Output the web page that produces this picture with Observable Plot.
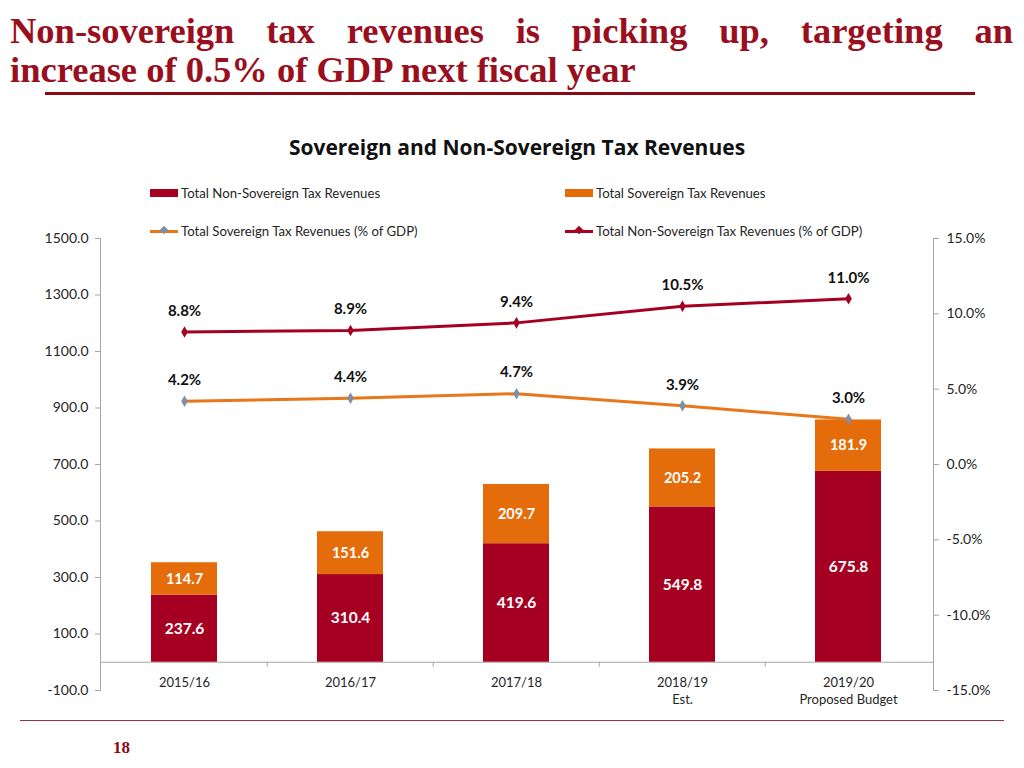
<!DOCTYPE html>
<html>
<head>
<meta charset="utf-8">
<script src="https://cdn.jsdelivr.net/npm/d3@7"></script>
<script src="https://cdn.jsdelivr.net/npm/@observablehq/plot@0.6"></script>
<style>
  html, body { margin: 0; padding: 0; background: #fff; }
  #page { position: relative; width: 1024px; height: 768px; overflow: hidden; font-family: Lato, "Open Sans", sans-serif; }
  .ttl { position: absolute; left: 10px; width: 1003px; font-family: "Liberation Serif", serif; font-weight: bold; font-size: 36.5px; color: #9A0F1E; white-space: nowrap; line-height: 1.15; }
  #t1 { top: 10px; text-align: justify; text-align-last: justify; white-space: normal; }
  #t2 { top: 49px; }
  #uline { position: absolute; left: 45px; top: 92px; width: 930px; height: 3px; background: #8B0A14; }
  #ctitle { position: absolute; left: 0; width: 1034px; top: 133px; text-align: center; font-family: "Open Sans", Lato, sans-serif; font-weight: bold; font-size: 21px; color: #111; }
  .leg { position: absolute; font-size: 13.2px; color: #262626; display: flex; align-items: center; white-space: nowrap; }
  .sw { display: inline-block; width: 28px; height: 8px; margin-right: 3px; }
  .lsw { position: relative; display: inline-block; width: 28px; height: 3px; margin-right: 3px; }
  .lsw i { position: absolute; left: 11px; top: -2.5px; width: 6px; height: 6px; transform: rotate(45deg); }
  #chart { position: absolute; left: 0; top: 200px; }
  #foot { position: absolute; left: 20px; top: 720px; width: 984px; height: 1px; background: #A0303A; }
  #pg { position: absolute; left: 113px; top: 738px; font-family: "Liberation Serif", serif; font-weight: bold; font-size: 17px; color: #8B0A14; }
</style>
</head>
<body>
<div id="page">
  <div class="ttl" id="t1">Non-sovereign tax revenues is picking up, targeting an</div>
  <div class="ttl" id="t2">increase of 0.5% of GDP next fiscal year</div>
  <div id="uline"></div>
  <div id="ctitle">Sovereign and Non-Sovereign Tax Revenues</div>
  <div class="leg" style="left:150px;top:185px;"><span class="sw" style="background:#A50021"></span>Total Non-Sovereign Tax Revenues</div>
  <div class="leg" style="left:565px;top:185px;"><span class="sw" style="background:#E46C0A"></span>Total Sovereign Tax Revenues</div>
  <div class="leg" style="left:150px;top:223px;"><span class="lsw" style="background:#E8761A"><i style="background:#7F8FA6"></i></span>Total Sovereign Tax Revenues (% of GDP)</div>
  <div class="leg" style="left:565px;top:223px;"><span class="lsw" style="background:#A50021"><i style="background:#A50021"></i></span>Total Non-Sovereign Tax Revenues (% of GDP)</div>
  <div id="chart"></div>
  <div id="foot"></div>
  <div id="pg">18</div>
</div>
<script>
const categories = ["2015/16", "2016/17", "2017/18", "2018/19", "2019/20"];
const xLabels = ["2015/16", "2016/17", "2017/18", "2018/19\nEst.", "2019/20\nProposed Budget"];
const nonSovereign = [237.6, 310.4, 419.6, 549.8, 675.8];
const sovereign = [114.7, 151.6, 209.7, 205.2, 181.9];
const sovereignPct = [4.2, 4.4, 4.7, 3.9, 3.0];
const nonSovereignPct = [8.8, 8.9, 9.4, 10.5, 11.0];
const leftTicks = [-100, 100, 300, 500, 700, 900, 1100, 1300, 1500];
const rightTicks = [-15, -10, -5, 0, 5, 10, 15];

const W = 1024, H = 520, ML = 100, MR = 91, MT = 38, MB = 30;
const yMin = -100, yMax = 1500, pMin = -15, pMax = 15;
const pctToY = p => yMin + (p - pMin) * (yMax - yMin) / (pMax - pMin);
const yToPct = y => pMin + (y - yMin) * (pMax - pMin) / (yMax - yMin);
const step = (W - ML - MR) / categories.length;

const rows = categories.map((c, i) => ({
  cat: c, label: xLabels[i],
  ns: nonSovereign[i], s: sovereign[i],
  sp: sovereignPct[i], nsp: nonSovereignPct[i]
}));

const RED = "#A50021", ORANGE = "#E46C0A", LINEOR = "#E8761A", AXIS = "#A6A6A6";

const plot = Plot.plot({
  width: W, height: H,
  marginLeft: ML, marginRight: MR, marginTop: MT, marginBottom: MB,
  style: { fontFamily: "Lato, 'Open Sans', sans-serif", background: "transparent", color: "#262626" },
  x: { type: "band", domain: categories, paddingInner: 0.6, paddingOuter: 0.3, axis: null },
  y: { domain: [yMin, yMax], axis: null },
  marks: [
    Plot.frame({ anchor: "left", stroke: AXIS }),
    Plot.frame({ anchor: "right", stroke: AXIS }),
    Plot.axisY(leftTicks, { anchor: "left", tickSize: 5, tickPadding: 7, fontSize: 14, stroke: AXIS, fill: "#262626", tickFormat: d => d.toFixed(1), label: null }),
    Plot.axisY(rightTicks.map(pctToY), { anchor: "right", tickSize: 5, tickPadding: 8, fontSize: 14, stroke: AXIS, fill: "#262626", tickFormat: d => yToPct(d).toFixed(1) + "%", label: null }),
    Plot.ruleY([0], { stroke: AXIS }),
    Plot.ruleX(categories.slice(1), { x: d => d, y1: 0, y2: -18, dx: -step / 2, stroke: AXIS }),
    Plot.barY(rows, { x: "cat", y1: 0, y2: "ns", fill: RED }),
    Plot.barY(rows, { x: "cat", y1: "ns", y2: d => d.ns + d.s, fill: ORANGE }),
    Plot.text(rows, { x: "cat", y: d => d.ns / 2, text: d => d.ns.toFixed(1), fill: "white", fontWeight: "bold", fontSize: 15.5 }),
    Plot.text(rows, { x: "cat", y: d => d.ns + d.s / 2, text: d => d.s.toFixed(1), fill: "white", fontWeight: "bold", fontSize: 14.5 }),
    Plot.line(rows, { x: "cat", y: d => pctToY(d.sp), stroke: LINEOR, strokeWidth: 3 }),
    Plot.dot(rows, { x: "cat", y: d => pctToY(d.sp), symbol: "diamond", r: 3.5, fill: "#7F8FA6" }),
    Plot.line(rows, { x: "cat", y: d => pctToY(d.nsp), stroke: RED, strokeWidth: 3 }),
    Plot.dot(rows, { x: "cat", y: d => pctToY(d.nsp), symbol: "diamond", r: 3.5, fill: RED }),
    Plot.text(rows, { x: "cat", y: d => pctToY(d.sp), text: d => d.sp.toFixed(1) + "%", dy: -21, fontWeight: "bold", fontSize: 15, fill: "#111" }),
    Plot.text(rows, { x: "cat", y: d => pctToY(d.nsp), text: d => d.nsp.toFixed(1) + "%", dy: -21, fontWeight: "bold", fontSize: 15, fill: "#111" }),
    Plot.text(rows, { x: "cat", y: 0, text: "label", dy: 12, lineAnchor: "top", fontSize: 13, lineHeight: 1.35, fill: "#262626" })
  ]
});
document.getElementById("chart").appendChild(plot);
</script>
</body>
</html>
